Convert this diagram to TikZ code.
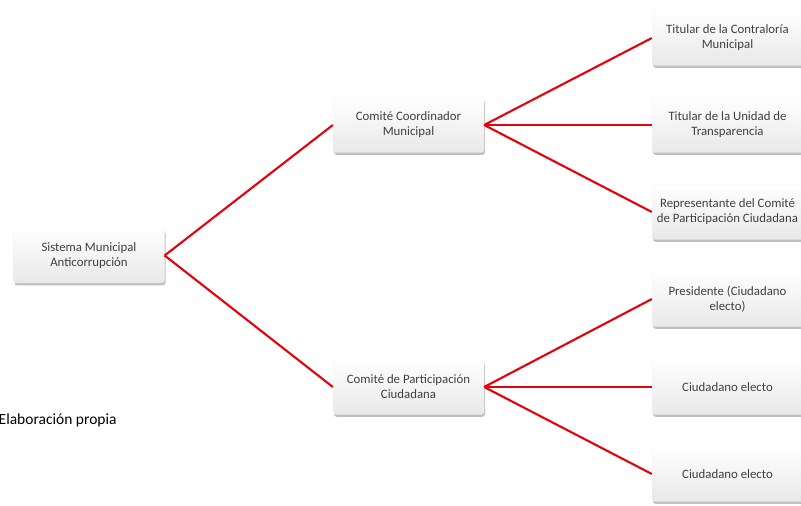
\documentclass[tikz,border=0pt]{standalone}
\usepackage{fontspec}
\setmainfont{Carlito}
\usetikzlibrary{shadows}
\definecolor{txt}{HTML}{404040}
\definecolor{link}{HTML}{E8000B}
\tikzset{
  box/.style={rectangle, rounded corners=3pt, minimum width=151pt, minimum height=55pt,
    top color=white, bottom color=gray!18, draw=gray!10, line width=0.3pt,
    text=txt, font=\fontsize{12.8}{15}\selectfont, align=center, inner sep=1pt,
    drop shadow={shadow xshift=1pt, shadow yshift=-2.5pt, opacity=0.55, fill=gray!90}},
  link/.style={draw=link, line width=2.1pt}
}
\begin{document}
\begin{tikzpicture}[x=1pt,y=1pt]
\useasboundingbox (0,0) rectangle (801,506);
\node[box] (root) at (89,250.5) {Sistema Municipal\\Anticorrupción};
\node[box] (cc) at (408.5,381) {Comité Coordinador\\Municipal};
\node[box] (cp) at (408.5,119) {Comité de Participación\\Ciudadana};
\node[box] (r1) at (727.5,468) {Titular de la Contraloría\\Municipal};
\node[box] (r2) at (727.5,381) {Titular de la Unidad de\\Transparencia};
\node[box] (r3) at (727.5,294) {Representante del Comité\\de Participación Ciudadana};
\node[box] (r4) at (727.5,207) {Presidente (Ciudadano\\electo)};
\node[box] (r5) at (727.5,119) {Ciudadano electo};
\node[box] (r6) at (727.5,32) {Ciudadano electo};
\draw[link] (root.east) -- (cc.west);
\draw[link] (root.east) -- (cp.west);
\draw[link] (cc.east) -- (r1.west);
\draw[link] (cc.east) -- (r2.west);
\draw[link] (cc.east) -- (r3.west);
\draw[link] (cp.east) -- (r4.west);
\draw[link] (cp.east) -- (r5.west);
\draw[link] (cp.east) -- (r6.west);
\node[anchor=west, font=\fontsize{15.5}{18}\selectfont, inner sep=0pt] (src) at (-1.5,86) {Elaboración propia};
\end{tikzpicture}
\end{document}
